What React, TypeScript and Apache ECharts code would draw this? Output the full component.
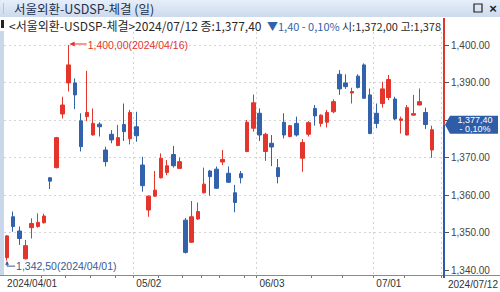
import React, { useEffect, useRef } from 'react';
import * as echarts from 'echarts';

const TITLE = '서울외환-USDSP-체결 (일)';
const NAME = '서울외환-USDSP-체결';

const dates = [
  '2024/04/01', '2024/04/02', '2024/04/03', '2024/04/04', '2024/04/05', '2024/04/08', '2024/04/09', '2024/04/11', '2024/04/12', '2024/04/15',
  '2024/04/16', '2024/04/17', '2024/04/18', '2024/04/19', '2024/04/22', '2024/04/23', '2024/04/24', '2024/04/25', '2024/04/26', '2024/04/29',
  '2024/04/30', '2024/05/02', '2024/05/03', '2024/05/07', '2024/05/08', '2024/05/09', '2024/05/10', '2024/05/13', '2024/05/14', '2024/05/16',
  '2024/05/17', '2024/05/20', '2024/05/21', '2024/05/22', '2024/05/23', '2024/05/24', '2024/05/27', '2024/05/28', '2024/05/29', '2024/05/30',
  '2024/05/31', '2024/06/03', '2024/06/04', '2024/06/05', '2024/06/07', '2024/06/10', '2024/06/11', '2024/06/12', '2024/06/13', '2024/06/14',
  '2024/06/17', '2024/06/18', '2024/06/19', '2024/06/20', '2024/06/21', '2024/06/24', '2024/06/25', '2024/06/26', '2024/06/27', '2024/06/28',
  '2024/07/01', '2024/07/02', '2024/07/03', '2024/07/04', '2024/07/05', '2024/07/08', '2024/07/09', '2024/07/10', '2024/07/11', '2024/07/12',
];

const opens = [
  1343.3, 1354.2, 1350.4, 1343.0, 1351.3, 1351.6, 1352.6, 1364.6, 1367.3, 1381.6,
  1389.9, 1389.9, 1379.8, 1380.9, 1376.0, 1378.9, 1372.0, 1376.2, 1373.2, 1378.8,
  1375.0, 1378.2, 1368.0, 1356.0, 1359.7, 1364.6, 1366.0, 1370.8, 1367.1, 1353.3,
  1347.4, 1353.6, 1360.6, 1366.4, 1366.9, 1368.8, 1365.8, 1360.6, 1365.7, 1371.6,
  1377.8, 1381.8, 1371.6, 1373.8, 1367.3, 1379.4, 1375.6, 1379.1, 1369.8, 1376.2,
  1383.1, 1379.1, 1379.4, 1382.2, 1392.2, 1389.9, 1387.2, 1391.7, 1394.7, 1386.7,
  1381.8, 1384.4, 1386.0, 1385.6, 1379.9, 1376.0, 1381.3, 1384.0, 1382.0, 1372.0,
];

const closes = [
  1349.1, 1351.6, 1348.4, 1346.5, 1352.4, 1352.7, 1354.4, 1363.7, 1375.3, 1384.0,
  1394.7, 1386.7, 1372.9, 1382.0, 1379.1, 1378.2, 1368.9, 1374.7, 1375.3, 1376.9,
  1382.0, 1375.8, 1362.5, 1359.7, 1361.3, 1369.8, 1367.8, 1367.8, 1368.9, 1344.7,
  1354.2, 1355.6, 1362.9, 1364.9, 1361.8, 1369.5, 1363.4, 1358.0, 1364.6, 1379.4,
  1384.6, 1376.0, 1376.2, 1372.8, 1364.9, 1376.0, 1378.5, 1376.0, 1374.0, 1379.3,
  1381.1, 1381.3, 1382.0, 1384.9, 1388.3, 1388.9, 1387.6, 1388.7, 1385.8, 1376.4,
  1379.1, 1388.3, 1390.8, 1380.3, 1380.3, 1383.3, 1381.7, 1384.9, 1378.8, 1377.4,
];

const lows = [
  1342.5, 1350.2, 1346.7, 1342.8, 1348.4, 1351.3, 1352.4, 1361.6, 1367.1, 1380.4,
  1387.6, 1382.9, 1371.6, 1379.7, 1375.9, 1375.6, 1367.6, 1373.8, 1373.0, 1374.4,
  1373.5, 1374.2, 1360.9, 1354.2, 1359.5, 1364.4, 1365.3, 1367.3, 1367.0, 1344.4,
  1347.2, 1353.4, 1360.4, 1359.8, 1361.6, 1368.0, 1363.2, 1355.4, 1363.1, 1371.4,
  1376.9, 1374.4, 1369.1, 1367.7, 1363.1, 1375.1, 1375.4, 1375.6, 1366.2, 1375.6,
  1378.5, 1378.2, 1378.0, 1381.8, 1386.7, 1388.3, 1384.4, 1388.4, 1385.6, 1376.2,
  1377.8, 1383.3, 1385.3, 1380.0, 1376.4, 1375.9, 1381.2, 1383.9, 1377.6, 1369.9,
];

const highs = [
  1349.3, 1355.6, 1351.6, 1348.0, 1353.8, 1355.1, 1355.0, 1364.8, 1375.5, 1386.2,
  1400.0, 1391.1, 1381.8, 1393.1, 1383.1, 1379.4, 1372.9, 1377.3, 1378.7, 1384.4,
  1382.7, 1382.2, 1370.2, 1359.9, 1366.4, 1371.1, 1369.3, 1373.1, 1370.0, 1353.9,
  1358.4, 1358.0, 1367.3, 1366.7, 1367.6, 1372.0, 1367.6, 1362.7, 1366.4, 1380.0,
  1386.8, 1383.1, 1376.6, 1376.0, 1369.6, 1381.8, 1378.7, 1380.9, 1374.9, 1379.7,
  1384.0, 1381.5, 1382.7, 1385.5, 1393.3, 1392.2, 1388.6, 1392.2, 1395.1, 1388.4,
  1384.4, 1390.2, 1392.0, 1386.2, 1380.9, 1384.0, 1386.7, 1388.4, 1383.3, 1378.5,
];

const yTicks = [1340, 1350, 1360, 1370, 1380, 1390, 1400];
const gridVals = [1350, 1360, 1370, 1380, 1390, 1400];
const xLabelIdx = [0, 21, 41, 60];
const xTickIdx = [6, 10, 14, 18, 21, 25, 29, 32, 35, 39, 41, 50, 55, 60, 65];
const Y_MIN = 1338.667;
const Y_MAX = 1403.467;

const RED = '#e4352c';
const BLUE = '#3262ab';
const FONT = '"Liberation Sans", Arial, "Noto Sans CJK KR", sans-serif';
const KFONT = '"Noto Sans CJK KR", "Liberation Sans", sans-serif';

const fmtDot = (v: number) => {
  const [a, b] = v.toFixed(2).split('.');
  return a.replace(/\B(?=(\d{3})+(?!\d))/g, ',') + '.' + b;
};
const fmtC = (v: number) => {
  const [a, b] = Math.abs(v).toFixed(2).split('.');
  return a.replace(/\B(?=(\d{3})+(?!\d))/g, ',') + ',' + b;
};

export default function App() {
  const ref = useRef<HTMLDivElement>(null);
  useEffect(() => {
    const chart = echarts.init(ref.current!, null, { renderer: 'svg' });
    const n = dates.length;
    const last = n - 1;
    const close = closes[last];
    // the current-price box covers the axis label nearest to it
    const labelVals = yTicks.filter((v) => Math.abs(v - close) > 3);

    chart.setOption({
      animation: false,
      backgroundColor: '#ffffff',
      textStyle: { fontFamily: FONT },
      grid: { left: 4, top: 32, width: 437, height: 243, containLabel: false },
      xAxis: {
        type: 'category',
        data: [...dates, ''],
        boundaryGap: true,
        axisLine: { show: false },
        axisTick: {
          show: true,
          length: 3,
          interval: (i: number) => xTickIdx.includes(i),
          lineStyle: { color: '#777' },
        },
        axisLabel: {
          interval: (i: number) => xLabelIdx.includes(i),
          formatter: (v: string, i: number) => (i === 0 ? v : v.slice(5)),
          align: 'left',
          margin: 3,
          fontSize: 10,
          color: '#333',
          fontFamily: FONT,
        },
        splitLine: {
          show: true,
          interval: (i: number) => i > 0 && xLabelIdx.includes(i),
          lineStyle: { color: '#d4d4d4', type: [2, 3], width: 1 },
        },
      },
      yAxis: {
        type: 'value',
        position: 'right',
        min: Y_MIN,
        max: Y_MAX,
        offset: 3,
        axisLine: { show: false },
        axisTick: { show: true, length: 5, customValues: yTicks, lineStyle: { color: '#555' } },
        axisLabel: {
          customValues: labelVals,
          formatter: (v: number) => fmtDot(v),
          fontSize: 10,
          color: '#444',
          margin: 7,
          fontFamily: FONT,
        },
        splitLine: { show: false },
      },
      series: [
        {
          type: 'candlestick',
          data: dates.map((_, i) => [opens[i], closes[i], lows[i], highs[i]]),
          barWidth: 4,
          itemStyle: { color: RED, color0: BLUE, borderColor: RED, borderColor0: BLUE, borderWidth: 1 },
          markLine: {
            silent: true,
            z: 1,
            symbol: ['none', 'none'],
            label: { show: false },
            lineStyle: { color: '#d4d4d4', type: [2, 3], width: 1 },
            emphasis: { disabled: true },
            data: gridVals.map((v) => ({ yAxis: v })),
          },
        },
      ],
    });

    const px = (i: number) => chart.convertToPixel({ xAxisIndex: 0 }, i) as number;
    const py = (v: number) => chart.convertToPixel({ yAxisIndex: 0 }, v) as number;

    const prev = closes[last - 1];
    const chg = close - prev;
    const pct = (chg / prev) * 100;
    const p = py(close);
    const axisX = 444;
    const bottomY = py(Y_MIN);

    let hi = 0;
    let lo = 0;
    highs.forEach((v, i) => { if (v > highs[hi]) hi = i; });
    lows.forEach((v, i) => { if (v < lows[lo]) lo = i; });
    const hx = px(hi);
    const hy = py(highs[hi]);
    const lx = px(lo);
    const ly = py(lows[lo]);

    const row2a = `<${NAME}>${dates[last]} 종:${fmtC(close)}`;
    const row2b = `${chg < 0 ? '▼' : '▲'}${fmtC(chg)} ${chg < 0 ? '-' : '+'} ${fmtC(pct)}%`;
    const row2c = `시:${fmtC(opens[last])} 고:${fmtC(highs[last])}`;
    const R2Y = 25.5;

    chart.setOption({
      graphic: [
        {
          type: 'rect', z: 50, shape: { x: 0, y: 0, width: 500, height: 17 },
          style: {
            fill: new echarts.graphic.LinearGradient(0, 0, 0, 1, [
              { offset: 0, color: '#e6eef9' },
              { offset: 1, color: '#ccdaee' },
            ]),
          },
        },
        { type: 'rect', z: 51, shape: { x: 3, y: 3, width: 1, height: 11 }, style: { fill: '#b8c4d4' } },
        {
          type: 'text', z: 52, x: 14, y: 8,
          style: { text: TITLE, font: `12.5px ${KFONT}`, fill: '#22304d', verticalAlign: 'middle' },
        },
        {
          type: 'rect', z: 52, shape: { x: 474, y: 4, width: 8, height: 8 },
          style: { fill: 'none', stroke: '#222', lineWidth: 1.2 },
        },
        {
          type: 'text', z: 52, x: 493, y: 8.5,
          style: { text: '×', font: `bold 13px ${FONT}`, fill: '#222', align: 'center', verticalAlign: 'middle' },
        },
        { type: 'rect', z: 50, shape: { x: 1, y: 20, width: 3, height: 8 }, style: { fill: '#222' } },
        {
          type: 'text', z: 50, x: 9, y: R2Y,
          style: { text: row2a, font: `12px ${KFONT}`, fill: '#2a2a2a', verticalAlign: 'middle' },
        },
        {
          type: 'text', z: 50, x: 267, y: R2Y,
          style: { text: row2b, font: `11px ${KFONT}`, fill: BLUE, verticalAlign: 'middle' },
        },
        {
          type: 'text', z: 50, x: 342, y: R2Y,
          style: {
            text: row2c, font: `11px ${KFONT}`, fill: '#2a2a2a', verticalAlign: 'middle',
            width: axisX - 343, overflow: 'truncate', ellipsis: '',
          },
        },
        { type: 'rect', z: 40, shape: { x: 0, y: 31, width: 4, height: 245 }, style: { fill: '#c9d7eb' } },
        {
          type: 'line', z: 45, shape: { x1: 0, y1: bottomY + 0.5, x2: 500, y2: bottomY + 0.5 },
          style: { stroke: '#8a8a8a', lineWidth: 1 },
        },
        {
          type: 'line', z: 60, shape: { x1: axisX, y1: 18, x2: axisX, y2: p - 5 },
          style: { stroke: '#e0352b', lineWidth: 2 },
        },
        {
          type: 'line', z: 60, shape: { x1: axisX, y1: p - 5, x2: axisX, y2: bottomY + 3 },
          style: { stroke: '#2f5ba6', lineWidth: 2 },
        },
        {
          type: 'polygon', z: 61,
          shape: { points: [[445, p - 5], [450, p - 14], [498, p - 14], [498, p + 4], [450, p + 4]] },
          style: { fill: '#2e5ca7' },
        },
        {
          type: 'text', z: 62, x: 475, y: p - 9.5,
          style: { text: fmtC(close), font: `9px ${FONT}`, fill: '#ffffff', align: 'center', verticalAlign: 'middle' },
        },
        {
          type: 'text', z: 62, x: 475, y: p - 0.5,
          style: { text: `${chg < 0 ? '-' : '+'} ${fmtC(pct)}%`, font: `9px ${FONT}`, fill: '#ffffff', align: 'center', verticalAlign: 'middle' },
        },
        {
          type: 'line', z: 30, shape: { x1: hx + 2, y1: hy - 1, x2: hx + 18, y2: hy - 1 },
          style: { stroke: RED, lineWidth: 1 },
        },
        {
          type: 'polygon', z: 30, shape: { points: [[hx + 1, hy - 1], [hx + 6, hy - 3.5], [hx + 6, hy + 1.5]] },
          style: { fill: RED },
        },
        {
          type: 'text', z: 30, x: hx + 19, y: hy,
          style: { text: `${fmtC(highs[hi])}(${dates[hi]})`, font: `10.5px ${FONT}`, fill: RED, verticalAlign: 'middle' },
        },
        {
          type: 'line', z: 30, shape: { x1: lx, y1: ly + 1, x2: lx, y2: ly + 5.5 },
          style: { stroke: '#3a5a94', lineWidth: 1 },
        },
        {
          type: 'polygon', z: 30, shape: { points: [[lx, ly + 0.5], [lx - 2, ly + 4], [lx + 2, ly + 4]] },
          style: { fill: '#3a5a94' },
        },
        {
          type: 'line', z: 30, shape: { x1: lx, y1: ly + 5.5, x2: lx + 8, y2: ly + 5.5 },
          style: { stroke: '#3a5a94', lineWidth: 1 },
        },
        {
          type: 'text', z: 30, x: lx + 9, y: ly + 5,
          style: { text: `${fmtC(lows[lo])}(${dates[lo]})`, font: `10.5px ${FONT}`, fill: '#3a5a94', verticalAlign: 'middle' },
        },
        {
          type: 'text', z: 30, x: 498, y: bottomY + 9,
          style: { text: dates[last], font: `10px ${FONT}`, fill: '#333', align: 'right', verticalAlign: 'middle' },
        },
      ],
    });

    return () => chart.dispose();
  }, []);
  return (
    <div
      ref={ref}
      style={{ position: 'fixed', left: 0, top: 0, width: 500, height: 292, background: '#fff' }}
    />
  );
}
